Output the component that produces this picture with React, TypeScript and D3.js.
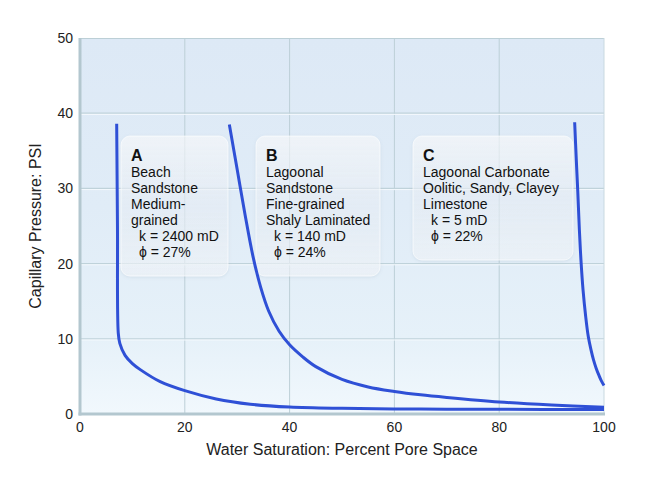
import React from "react";
import * as d3 from "d3";

const xTicks = [0, 20, 40, 60, 80, 100];
const yTicks = [0, 10, 20, 30, 40, 50];

const curveASat = [7.0, 7.15, 7.3, 7.6, 8.6, 10, 11.5, 15.3, 20, 26, 32.5, 40, 50, 65, 80, 100];
const curveAPsi = [38.6, 25, 10.8, 9.4, 7.8, 6.7, 5.9, 4.3, 3.1, 2.0, 1.3, 0.92, 0.75, 0.65, 0.62, 0.6];

const curveBSat = [28.5, 30, 31.5, 33, 34.5, 36, 38, 40, 42.5, 45, 50, 55, 60, 65, 70, 80, 90, 100];
const curveBPsi = [38.5, 32.5, 26.5, 21.0, 16.8, 13.7, 11.0, 9.2, 7.6, 6.3, 4.6, 3.6, 3.0, 2.55, 2.2, 1.6, 1.2, 0.9];

const curveCSat = [94.4, 94.7, 95.0, 95.3, 95.6, 96.0, 96.5, 97.0, 97.5, 98.0, 98.5, 99.0, 99.5, 100];
const curveCPsi = [38.8, 34, 29.5, 24.5, 20.5, 16.5, 13, 10.3, 8.6, 7.2, 6.1, 5.2, 4.4, 3.8];

const boxATitle = "A";
const boxALines = ["Beach", "Sandstone", "Medium-", "grained"];
const boxAProps = ["k = 2400 mD", "ϕ = 27%"];
const boxBTitle = "B";
const boxBLines = ["Lagoonal", "Sandstone", "Fine-grained", "Shaly Laminated"];
const boxBProps = ["k = 140 mD", "ϕ = 24%"];
const boxCTitle = "C";
const boxCLines = ["Lagoonal Carbonate", "Oolitic, Sandy, Clayey", "Limestone"];
const boxCProps = ["k = 5 mD", "ϕ = 22%"];

const W = 648;
const H = 486;
const left = 80;
const right = 604;
const top = 38;
const bottom = 414;
const font = "'Liberation Sans', Arial, sans-serif";

const x = d3.scaleLinear().domain([0, 100]).range([left, right]);
const y = d3.scaleLinear().domain([0, 50]).range([bottom, top]);

const line = d3
  .line<[number, number]>()
  .x((d) => x(d[0]))
  .y((d) => y(d[1]))
  .curve(d3.curveCatmullRom.alpha(0.5));

const zip = (a: number[], b: number[]): [number, number][] => a.map((v, i) => [v, b[i]]);

type BoxProps = {
  bx: number;
  by: number;
  bw: number;
  bh: number;
  title: string;
  lines: string[];
  props: string[];
};

function InfoBox({ bx, by, bw, bh, title, lines, props }: BoxProps) {
  const tx = bx + 10;
  return (
    <g>
      <rect x={bx} y={by} width={bw} height={bh} rx={9} fill="url(#boxGrad)" stroke="#ffffff" strokeOpacity={0.6} filter="url(#boxShadow)" />
      <text x={tx} y={by + 25} fontFamily={font} fontSize={16} fontWeight="bold" fill="#111">
        {title}
      </text>
      {lines.map((l, i) => (
        <text key={l} x={tx} y={by + 41 + i * 16} fontFamily={font} fontSize={14} fill="#111">
          {l}
        </text>
      ))}
      {props.map((l, i) => (
        <text key={l} x={tx + 8} y={by + 41 + (lines.length + i) * 16} fontFamily={font} fontSize={14} fill="#111">
          {l}
        </text>
      ))}
    </g>
  );
}

export default function App() {
  return (
    <svg width={W} height={H} style={{ position: "absolute", left: 0, top: 0 }}>
      <defs>
        <linearGradient id="bgGrad" x1="0" y1="0" x2="0" y2="1">
          <stop offset="0%" stopColor="#dde9f6" />
          <stop offset="45%" stopColor="#e0ecf7" />
          <stop offset="80%" stopColor="#e6f1f9" />
          <stop offset="100%" stopColor="#f1f8fd" />
        </linearGradient>
        <linearGradient id="boxGrad" x1="0" y1="0" x2="0" y2="1">
          <stop offset="0%" stopColor="#ffffff" stopOpacity={0.6} />
          <stop offset="50%" stopColor="#eef4fa" stopOpacity={0.55} />
          <stop offset="100%" stopColor="#f6f9fc" stopOpacity={0.6} />
        </linearGradient>
        <filter id="boxShadow" x="-10%" y="-10%" width="120%" height="120%">
          <feDropShadow dx="0" dy="1" stdDeviation="1.5" floodColor="#7890a8" floodOpacity="0.25" />
        </filter>
      </defs>
      <rect x={0} y={0} width={W} height={H} fill="#ffffff" />
      <rect x={left} y={top} width={right - left} height={bottom - top} fill="url(#bgGrad)" />
      {xTicks.slice(1, -1).map((t) => (
        <line key={"gx" + t} x1={x(t)} x2={x(t)} y1={top} y2={bottom} stroke="#bccfd7" strokeWidth={1} />
      ))}
      {yTicks.slice(1, -1).map((t) => (
        <g key={"gy" + t}>
          <line x1={left} x2={right} y1={y(t)} y2={y(t)} stroke="#bfd2da" strokeWidth={1.2} />
          <line x1={left} x2={right} y1={y(t) + 1.2} y2={y(t) + 1.2} stroke="#f4f9fd" strokeWidth={1} />
        </g>
      ))}
      <line x1={left} x2={right} y1={top + 0.5} y2={top + 0.5} stroke="#bccfd6" strokeWidth={1} />
      <line x1={right} x2={right} y1={top} y2={bottom} stroke="#c9d9e0" strokeWidth={1} />
      <InfoBox bx={121} by={136} bw={107} bh={140} title={boxATitle} lines={boxALines} props={boxAProps} />
      <InfoBox bx={256} by={136} bw={124} bh={140} title={boxBTitle} lines={boxBLines} props={boxBProps} />
      <InfoBox bx={413} by={136} bw={160} bh={124} title={boxCTitle} lines={boxCLines} props={boxCProps} />
      {[zip(curveASat, curveAPsi), zip(curveBSat, curveBPsi), zip(curveCSat, curveCPsi)].map((pts, i) => (
        <path key={i} d={line(pts) || ""} fill="none" stroke="#2f50d6" strokeWidth={3} strokeLinejoin="round" />
      ))}
      <line x1={left} x2={left} y1={top} y2={bottom + 1.5} stroke="#b3c7cf" strokeWidth={3} />
      <line x1={left - 1.5} x2={right + 1} y1={bottom} y2={bottom} stroke="#b3c7cf" strokeWidth={3} />
      {yTicks.map((t) => (
        <text key={"ty" + t} x={73} y={y(t)} dy="0.35em" textAnchor="end" fontFamily={font} fontSize={14} fill="#222">
          {t}
        </text>
      ))}
      {xTicks.map((t) => (
        <text key={"tx" + t} x={x(t)} y={432} textAnchor="middle" fontFamily={font} fontSize={14} fill="#222">
          {t}
        </text>
      ))}
      <text x={(left + right) / 2} y={455} textAnchor="middle" fontFamily={font} fontSize={16} fill="#222">
        Water Saturation: Percent Pore Space
      </text>
      <text
        transform={`translate(41, ${(top + bottom) / 2}) rotate(-90)`}
        textAnchor="middle"
        fontFamily={font}
        fontSize={16}
        fill="#222"
      >
        Capillary Pressure: PSI
      </text>
    </svg>
  );
}
